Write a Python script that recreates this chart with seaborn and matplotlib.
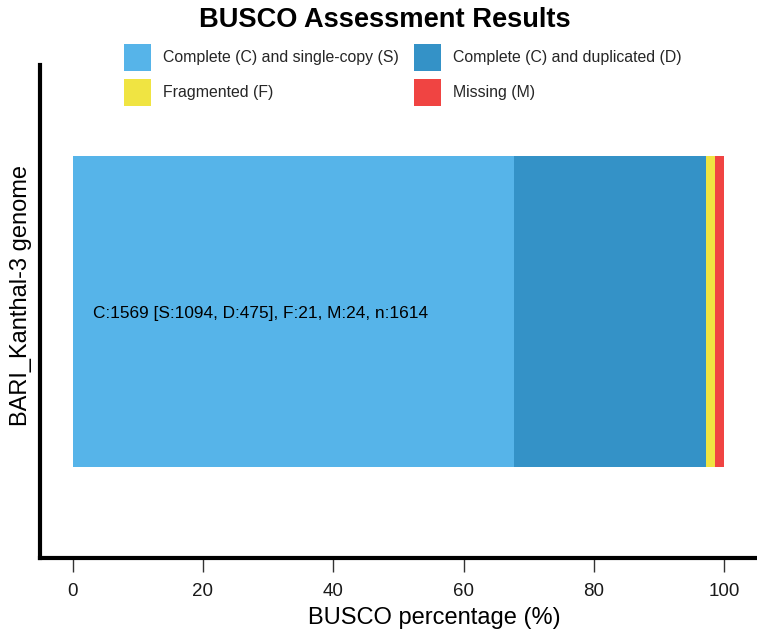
import matplotlib
matplotlib.use("Agg")
import matplotlib.pyplot as plt
import seaborn as sns
import pandas as pd
from matplotlib.patches import Patch

# Data
genome = ["BARI_Kanthal-3 genome"]
categories = ["Complete (C) and single-copy (S)", "Complete (C) and duplicated (D)",
              "Fragmented (F)", "Missing (M)"]
counts = [1094, 475, 21, 24]
total_n = 1614
colors = ["#56B4E9", "#3492C7", "#F0E442", "#F04442"]
summary = "C:1569 [S:1094, D:475], F:21, M:24, n:1614"
xticks = [0, 20, 40, 60, 80, 100]

sns.set_theme(style="white")
plt.rcParams["font.family"] = ["Liberation Sans", "DejaVu Sans"]

perc = [c / total_n * 100 for c in counts]
cum = []
s = 0
for p in perc:
    s += p
    cum.append(s)

fig = plt.figure(figsize=(7.57, 6.32), dpi=100)
ax = fig.add_axes([40 / 757, 74 / 632, 717 / 757, 493 / 632])

# stacked bars drawn largest cumulative first
for i in reversed(range(len(categories))):
    df = pd.DataFrame({"genome": genome, "value": [cum[i]]})
    sns.barplot(data=df, x="value", y="genome", color=colors[i], saturation=1,
                width=0.629, ax=ax, linewidth=0, orient="h")

ax.set_xlim(-5, 105)
ax.set_ylim(0.5, -0.5)
ax.set_xticks(xticks)
ax.set_xticklabels([str(t) for t in xticks], fontsize=13.5, color="#1a1a1a")
ax.set_yticks([])
ax.tick_params(axis="x", length=10, width=1, color="#333333", pad=8, bottom=True)
for sp in ["top", "right"]:
    ax.spines[sp].set_visible(False)
for sp in ["left", "bottom"]:
    ax.spines[sp].set_visible(True)
    ax.spines[sp].set_linewidth(3)
    ax.spines[sp].set_color("black")

ax.set_xlabel("BUSCO percentage (%)", fontsize=17, va="baseline", color="black")
ax.xaxis.set_label_coords((434 - 40) / 717, -(624 - 558) / 493)
ax.set_ylabel(genome[0], fontsize=17, va="baseline", color="black")
ax.yaxis.set_label_coords(-(40 - 27) / 717, (558 - 296) / 493)

ax.text(3.1, 0.005, summary, fontsize=12.4, va="center", ha="left", color="black")

fig.text(385 / 757, 1 - 27 / 632, "BUSCO Assessment Results", fontsize=19.6,
         fontweight="bold", ha="center", va="baseline", color="black")

order = [0, 2, 1, 3]
handles = [Patch(facecolor=colors[i], edgecolor="none", label=categories[i]) for i in order]
fig.legend(handles=handles, ncol=2, loc="upper left",
           bbox_to_anchor=(124 / 757, 1 - 44 / 632), frameon=False, fontsize=11.4,
           handlelength=1.7, handleheight=2.24, handletextpad=0.76,
           columnspacing=0.95, labelspacing=0.5, borderpad=0, borderaxespad=0)

fig.savefig("out.png", dpi=100)
